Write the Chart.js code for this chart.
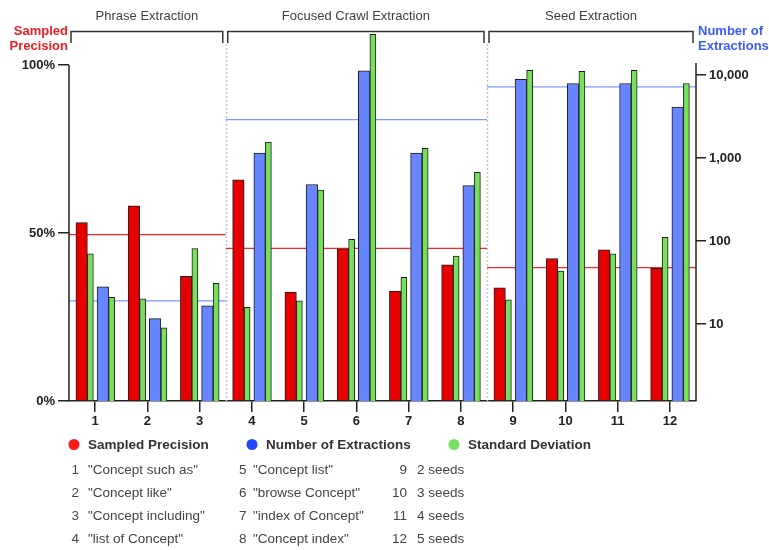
<!DOCTYPE html>
<html>
<head>
<meta charset="utf-8">
<script src="https://cdn.jsdelivr.net/npm/chart.js@4.4.1/dist/chart.umd.min.js"></script>
<style>
html,body{margin:0;padding:0;background:#fff;}
#wrap{width:769px;height:550px;position:relative;}
</style>
</head>
<body>
<div id="wrap"><canvas id="c" width="769" height="550"></canvas></div>
<script>
// ---------------- DATA ----------------
const categories = ['1','2','3','4','5','6','7','8','9','10','11','12'];
const groupNames = ['Phrase Extraction', 'Focused Crawl Extraction', 'Seed Extraction'];
const groupFirst = [1, 4, 9];
const groupLast  = [3, 8, 12];
const precision     = [53.1, 58.1, 37.1, 65.8, 32.4, 45.3, 32.7, 40.5, 33.7, 42.4, 45.0, 39.5];
const precisionSd   = [43.8, 30.4, 45.4, 27.9, 29.8, 48.1, 36.8, 43.1, 30.1, 38.7, 43.8, 48.7];
const extractions   = [28, 11.6, 16.6, 1150, 480, 11200, 1150, 465, 8900, 7900, 7900, 4100];
const extractionsSd = [21, 9, 31, 1560, 410, 31000, 1310, 670, 11400, 11100, 11400, 7900];
const precisionAvg   = [49.5, 45.4, 39.7];
const extractionsAvg = [19, 2900, 7200];
const precisionTicks  = [0, 50, 100];
const extractionTicks = [10, 100, 1000, 10000];
const leftTitle  = ['Sampled', 'Precision'];
const rightTitle = ['Number of', 'Extractions'];
const legendNames = ['Sampled Precision', 'Number of Extractions', 'Standard Deviation'];
const noteLabels = ['"Concept such as"', '"Concept like"', '"Concept including"', '"list of Concept"',
                    '"Concept list"', '"browse Concept"', '"index of Concept"', '"Concept index"',
                    '2 seeds', '3 seeds', '4 seeds', '5 seeds'];

// ---------------- STYLE ----------------
const FONT = '"Liberation Sans", Arial, Helvetica, sans-serif';
const RED = '#e60000', BLUE = '#6685ff', GREEN = '#77e05a', EDGE = '#1e1e1e', AXIS = '#222222';
const OFF = { prec: -0.258, precSd: -0.091, ext: 0.148, extSd: 0.316 };
Chart.defaults.font.family = FONT;

const toPoints = (vals, off) => vals.map((v, i) => ({ x: i + 1 + off, y: v }));
function barSet(label, vals, off, color, thick, axis) {
  return { type: 'bar', label, data: toPoints(vals, off), backgroundColor: color,
           borderColor: EDGE, borderWidth: 1, borderSkipped: 'start', barThickness: thick,
           grouped: false, yAxisID: axis, order: 0 };
}
function avgSets(vals, color, axis) {
  return vals.map((v, g) => ({ type: 'line', label: 'avg',
    data: [{ x: groupFirst[g] - 0.5, y: v }, { x: groupLast[g] + 0.5, y: v }],
    borderColor: color, borderWidth: 1.2, pointRadius: 0, fill: false, yAxisID: axis, order: 1 }));
}

const decor = {
  id: 'decor',
  beforeDatasetsDraw(chart) {
    const { ctx, chartArea: ca, scales: { x } } = chart;
    ctx.save();
    ctx.strokeStyle = '#c4c4c4'; ctx.lineWidth = 1.5; ctx.setLineDash([2, 2]);
    groupLast.slice(0, -1).forEach(e => {
      const px = Math.round(x.getPixelForValue(e + 0.5)) + 0.5;
      ctx.beginPath(); ctx.moveTo(px, 44); ctx.lineTo(px, ca.bottom); ctx.stroke();
    });
    ctx.restore();
  },
  afterDraw(chart) {
    const { ctx, chartArea: ca, scales: { x, y } } = chart;
    ctx.save();
    ctx.setLineDash([]);
    // partial axis lines
    ctx.strokeStyle = AXIS; ctx.lineWidth = 1.5;
    const top = y.getPixelForValue(100);
    ctx.beginPath();
    ctx.moveTo(ca.left, top); ctx.lineTo(ca.left, ca.bottom);
    ctx.moveTo(ca.right, top - 2); ctx.lineTo(ca.right, ca.bottom);
    ctx.stroke();
    // group brackets + titles
    ctx.strokeStyle = '#333'; ctx.lineWidth = 1.5;
    ctx.font = `13px ${FONT}`; ctx.fillStyle = '#404040';
    ctx.textAlign = 'center'; ctx.textBaseline = 'middle';
    groupNames.forEach((name, g) => {
      const l = x.getPixelForValue(groupFirst[g] - 0.5) + 2;
      const r = x.getPixelForValue(groupLast[g] + 0.5) - 3;
      ctx.beginPath(); ctx.moveTo(l, 43); ctx.lineTo(l, 31.5); ctx.lineTo(r, 31.5); ctx.lineTo(r, 43); ctx.stroke();
      ctx.fillText(name, (l + r) / 2, 16);
    });
    // axis titles
    ctx.font = `bold 13px ${FONT}`;
    ctx.fillStyle = '#ee1c24'; ctx.textAlign = 'right';
    ctx.fillText(leftTitle[0], ca.left - 1, 31);
    ctx.fillText(leftTitle[1], ca.left - 1, 46.5);
    ctx.fillStyle = '#3a5cff'; ctx.textAlign = 'left';
    ctx.fillText(rightTitle[0], ca.right + 2, 31);
    ctx.fillText(rightTitle[1], ca.right + 2, 46.5);
    // legend
    const lgColors = ['#ff1a1a', '#1f48ff', '#77e063'];
    const lgX = [74, 252, 454];
    ctx.font = `bold 13.5px ${FONT}`; ctx.fillStyle = '#333';
    legendNames.forEach((n, i) => {
      ctx.beginPath(); ctx.fillStyle = lgColors[i];
      ctx.arc(lgX[i], 444.5, 5.5, 0, Math.PI * 2); ctx.fill();
      ctx.fillStyle = '#333'; ctx.textAlign = 'left';
      ctx.fillText(n, lgX[i] + 14, 445);
    });
    // notes
    ctx.font = `13.5px ${FONT}`; ctx.fillStyle = '#444';
    const numRight = [79, 246.5, 407], txtLeft = [88, 253, 417];
    noteLabels.forEach((t, i) => {
      const col = Math.floor(i / 4), row = i % 4;
      const yy = 470.5 + row * 22.9;
      ctx.textAlign = 'right'; ctx.fillText(categories[i], numRight[col], yy);
      ctx.textAlign = 'left'; ctx.fillText(t, txtLeft[col], yy);
    });
    ctx.restore();
  }
};

const tickFont = { family: FONT, size: 13, weight: 'bold' };

new Chart(document.getElementById('c'), {
  type: 'bar',
  data: {
    datasets: [
      barSet('Sampled Precision', precision, OFF.prec, RED, 11.5, 'y'),
      barSet('Standard Deviation', precisionSd, OFF.precSd, GREEN, 6, 'y'),
      barSet('Number of Extractions', extractions, OFF.ext, BLUE, 11.5, 'y1'),
      barSet('Standard Deviation', extractionsSd, OFF.extSd, GREEN, 6, 'y1'),
      ...avgSets(precisionAvg, '#f02828', 'y'),
      ...avgSets(extractionsAvg, '#7d98ff', 'y1')
    ]
  },
  options: {
    responsive: false,
    animation: false,
    devicePixelRatio: 1,
    layout: { padding: { top: 31, left: 0, right: 0, bottom: 0 } },
    plugins: { legend: { display: false }, tooltip: { enabled: false }, title: { display: false } },
    scales: {
      x: {
        type: 'linear', min: 0.5, max: 12.5, offset: false,
        afterBuildTicks: s => { s.ticks = categories.map((c, i) => ({ value: i + 1 })); },
        afterFit: s => { s.height = 149; },
        ticks: { autoSkip: false, maxRotation: 0, font: tickFont, color: AXIS, padding: 2,
                 callback: (v, i) => categories[i] },
        grid: { drawOnChartArea: false, drawTicks: true, tickLength: 11, color: AXIS, lineWidth: 1.5, offset: false },
        border: { display: true, color: AXIS, width: 1.5 }
      },
      y: {
        type: 'linear', position: 'left', min: 0, max: 110.12, bounds: 'data',
        afterBuildTicks: s => { s.ticks = precisionTicks.map(v => ({ value: v })); },
        afterFit: s => { s.width = 69; },
        ticks: { font: tickFont, color: AXIS, padding: 3, callback: v => v + '%' },
        grid: { drawOnChartArea: false, drawTicks: true, tickLength: 11, color: AXIS, lineWidth: 1.5 },
        border: { display: false }
      },
      y1: {
        type: 'logarithmic', position: 'right', min: 1.1808, max: 33900, bounds: 'data',
        afterBuildTicks: s => { s.ticks = extractionTicks.map(v => ({ value: v })); },
        afterFit: s => { s.width = 73; },
        ticks: { font: tickFont, color: AXIS, padding: 3, callback: v => Number(v).toLocaleString('en-US') },
        grid: { drawOnChartArea: false, drawTicks: true, tickLength: 10, color: AXIS, lineWidth: 1.5 },
        border: { display: false }
      }
    }
  },
  plugins: [decor]
});
</script>
</body>
</html>
